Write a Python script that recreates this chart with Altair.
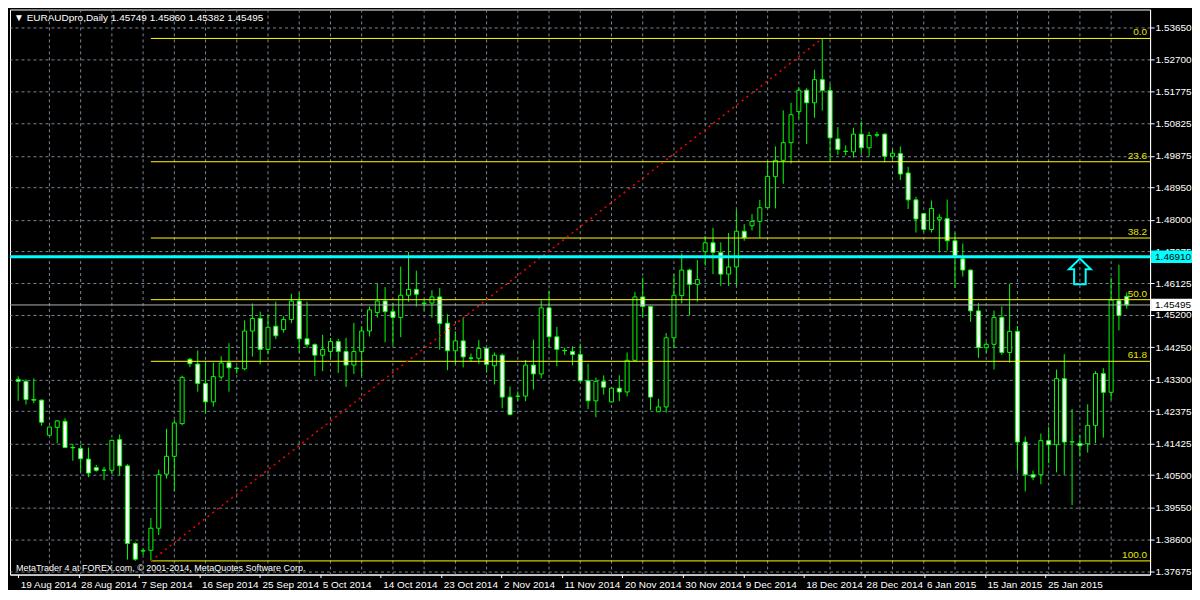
import json
import altair as alt
import pandas as pd

# ---------------- data ----------------
opens = [1.4331, 1.4325, 1.4272, 1.4270, 1.4167, 1.4190, 1.4208, 1.4131, 1.4128, 1.4097,
         1.4072, 1.4065, 1.4064, 1.4154, 1.4077, 1.3849, 1.3827, 1.3829, 1.3894, 1.4053,
         1.4105, 1.4201, 1.4390, 1.4376, 1.4319, 1.4265, 1.4338, 1.4380, 1.4364, 1.4362,
         1.4473, 1.4510, 1.4419, 1.4487, 1.4477, 1.4507, 1.4561, 1.4450, 1.4433, 1.4402,
         1.4413, 1.4442, 1.4413, 1.4373, 1.4413, 1.4473, 1.4527, 1.4561, 1.4530, 1.4513,
         1.4578, 1.4595, 1.4555, 1.4555, 1.4573, 1.4496, 1.4415, 1.4444, 1.4394, 1.4393,
         1.4422, 1.4371, 1.4402, 1.4279, 1.4281, 1.4282, 1.4373, 1.4347, 1.4541, 1.4456,
         1.4416, 1.4413, 1.4404, 1.4327, 1.4268, 1.4325, 1.4265, 1.4305, 1.4294, 1.4387,
         1.4573, 1.4545, 1.4236, 1.4250, 1.4453, 1.4577, 1.4652, 1.4610, 1.4706, 1.4732,
         1.4703, 1.4640, 1.4661, 1.4766, 1.4782, 1.4795, 1.4835, 1.4926, 1.4974, 1.5026,
         1.5117, 1.5180, 1.5143, 1.5211, 1.5179, 1.5037, 1.5001, 1.4999, 1.5051, 1.5011,
         1.5048, 1.5051, 1.4986, 1.4994, 1.4937, 1.4858, 1.4818, 1.4771, 1.4801, 1.4803,
         1.4738, 1.4685, 1.4652, 1.4532, 1.4424, 1.4434, 1.4513, 1.4410, 1.4472, 1.4147,
         1.4051, 1.4051, 1.4151, 1.4139, 1.4333, 1.4147, 1.4143, 1.4142, 1.4196, 1.4348,
         1.4293, 1.4562, 1.45749]
highs = [1.4340, 1.4331, 1.4334, 1.4272, 1.4192, 1.4211, 1.4217, 1.4142, 1.4139, 1.4131,
         1.4080, 1.4074, 1.4154, 1.4169, 1.4082, 1.3853, 1.3835, 1.3924, 1.4066, 1.4186,
         1.4212, 1.4342, 1.4394, 1.4416, 1.4382, 1.4380, 1.4399, 1.4437, 1.4369, 1.4504,
         1.4554, 1.4530, 1.4522, 1.4559, 1.4516, 1.4582, 1.4585, 1.4559, 1.4437, 1.4462,
         1.4453, 1.4450, 1.4453, 1.4497, 1.4487, 1.4545, 1.4611, 1.4602, 1.4556, 1.4662,
         1.4705, 1.4650, 1.4564, 1.4593, 1.4599, 1.4522, 1.4472, 1.4512, 1.4407, 1.4447,
         1.4425, 1.4410, 1.4407, 1.4310, 1.4296, 1.4388, 1.4448, 1.4563, 1.4591, 1.4485,
         1.4424, 1.4428, 1.4436, 1.4377, 1.4336, 1.4343, 1.4308, 1.4343, 1.4410, 1.4588,
         1.4630, 1.4548, 1.4274, 1.4467, 1.4640, 1.4701, 1.4656, 1.4681, 1.4752, 1.4776,
         1.4733, 1.4761, 1.4829, 1.4787, 1.4816, 1.4858, 1.4972, 1.5015, 1.5121, 1.5143,
         1.5188, 1.5186, 1.5240, 1.5331, 1.5198, 1.5072, 1.5018, 1.5070, 1.5089, 1.5058,
         1.5058, 1.5054, 1.5007, 1.5015, 1.4955, 1.4867, 1.4819, 1.4856, 1.4816, 1.4859,
         1.4762, 1.4730, 1.4653, 1.4555, 1.4441, 1.4533, 1.4545, 1.4611, 1.4488, 1.4163,
         1.4063, 1.4172, 1.4192, 1.4360, 1.4405, 1.4244, 1.4168, 1.4258, 1.4355, 1.4364,
         1.4630, 1.4668, 1.45860]
lows = [1.4268, 1.4257, 1.4261, 1.4195, 1.4166, 1.4144, 1.4129, 1.4092, 1.4058, 1.4044,
        1.4060, 1.4035, 1.4054, 1.4049, 1.3802, 1.3798, 1.3816, 1.3800, 1.3874, 1.4040,
        1.4003, 1.4196, 1.4367, 1.4295, 1.4231, 1.4251, 1.4331, 1.4295, 1.4348, 1.4358,
        1.4398, 1.4375, 1.4405, 1.4449, 1.4468, 1.4496, 1.4410, 1.4424, 1.4341, 1.4355,
        1.4393, 1.4350, 1.4309, 1.4347, 1.4341, 1.4457, 1.4512, 1.4440, 1.4432, 1.4455,
        1.4559, 1.4545, 1.4534, 1.4512, 1.4418, 1.4358, 1.4375, 1.4366, 1.4383, 1.4377,
        1.4351, 1.4316, 1.4246, 1.4225, 1.4268, 1.4267, 1.4301, 1.4334, 1.4426, 1.4370,
        1.4403, 1.4372, 1.4322, 1.4244, 1.4220, 1.4286, 1.4263, 1.4267, 1.4281, 1.4387,
        1.4514, 1.4241, 1.4235, 1.4233, 1.4422, 1.4554, 1.4519, 1.4559, 1.4665, 1.4640,
        1.4605, 1.4605, 1.4605, 1.4738, 1.4768, 1.4747, 1.4835, 1.4833, 1.4905, 1.4965,
        1.5097, 1.5022, 1.5099, 1.5120, 1.4973, 1.4990, 1.4989, 1.4982, 1.4994, 1.4985,
        1.5042, 1.4968, 1.4977, 1.4916, 1.4831, 1.4762, 1.4764, 1.4762, 1.4704, 1.4709,
        1.4600, 1.4633, 1.4500, 1.4394, 1.4409, 1.4360, 1.4403, 1.4380, 1.4063, 1.4002,
        1.4035, 1.4023, 1.4085, 1.4058, 1.4051, 1.3962, 1.4104, 1.4116, 1.4144, 1.4160,
        1.4272, 1.4475, 1.45382]
closes = [1.4325, 1.4272, 1.4270, 1.4205, 1.4191, 1.4209, 1.4131, 1.4130, 1.4098, 1.4056,
          1.4064, 1.4064, 1.4152, 1.4077, 1.3849, 1.3803, 1.3828, 1.3894, 1.4051, 1.4105,
          1.4203, 1.4337, 1.4377, 1.4319, 1.4265, 1.4339, 1.4379, 1.4365, 1.4363, 1.4473,
          1.4510, 1.4419, 1.4484, 1.4459, 1.4507, 1.4561, 1.4450, 1.4433, 1.4402, 1.4419,
          1.4442, 1.4413, 1.4373, 1.4413, 1.4473, 1.4535, 1.4561, 1.4530, 1.4513, 1.4578,
          1.4595, 1.4581, 1.4554, 1.4573, 1.4495, 1.4415, 1.4444, 1.4397, 1.4393, 1.4422,
          1.4375, 1.4402, 1.4279, 1.4228, 1.4282, 1.4373, 1.4347, 1.4541, 1.4456, 1.4419,
          1.4415, 1.4404, 1.4327, 1.4268, 1.4325, 1.4308, 1.4305, 1.4294, 1.4387, 1.4573,
          1.4545, 1.4279, 1.4250, 1.4453, 1.4578, 1.4652, 1.4610, 1.4624, 1.4732, 1.4704,
          1.4640, 1.4661, 1.4766, 1.4747, 1.4795, 1.4835, 1.4927, 1.4974, 1.5026, 1.5108,
          1.5180, 1.5143, 1.5211, 1.5179, 1.5040, 1.5006, 1.5000, 1.5051, 1.5011, 1.5047,
          1.5049, 1.4986, 1.4995, 1.4934, 1.4858, 1.4802, 1.4771, 1.4833, 1.4807, 1.4738,
          1.4693, 1.4652, 1.4532, 1.4424, 1.4434, 1.4513, 1.4410, 1.4472, 1.4147, 1.4051,
          1.4044, 1.4151, 1.4139, 1.4333, 1.4147, 1.4148, 1.4136, 1.4196, 1.4348, 1.4293,
          1.4564, 1.4518, 1.45495]

price_labels = [1.53650, 1.52700, 1.51775, 1.50825, 1.49875, 1.48950, 1.48000, 1.47075,
                1.46125, 1.45200, 1.44250, 1.43300, 1.42375, 1.41425, 1.40500, 1.39550,
                1.38600, 1.37675]
date_labels = ["19 Aug 2014", "28 Aug 2014", "7 Sep 2014", "16 Sep 2014", "25 Sep 2014",
               "5 Oct 2014", "14 Oct 2014", "23 Oct 2014", "2 Nov 2014", "11 Nov 2014",
               "20 Nov 2014", "30 Nov 2014", "9 Dec 2014", "18 Dec 2014", "28 Dec 2014",
               "6 Jan 2015", "15 Jan 2015", "25 Jan 2015"]
fib_levels = [0.0, 23.6, 38.2, 50.0, 61.8, 100.0]
fib_high = 1.5332
fib_low = 1.3798
fib_start_bar = 17
fib_high_bar = 103
hline_price = 1.46910
arrow_bar = 136
arrow_price = 1.4648
symbol = "EURAUDpro,Daily"
footer = "MetaTrader 4 at FOREX.com, \u00a9 2001-2014, MetaQuotes Software Corp."

# ---------------- layout / style ----------------
W, H = 1142, 566
FONT = "Liberation Sans"
GREEN = "#00FF00"
GRID = "#778899"
LABEL_STEP = 7.74  # bars between time labels

n = len(opens)
df = pd.DataFrame({"i": list(range(n)), "o": opens, "h": highs, "l": lows, "c": closes})

x_scale = alt.Scale(domain=[-0.41, 144.35], nice=False, zero=False)
y_scale = alt.Scale(domain=[1.3758, 1.5417], nice=False, zero=False)

x_axis = alt.Axis(
    orient="bottom", values=[k * LABEL_STEP for k in range(len(date_labels))],
    labelExpr=json.dumps(date_labels) + "[round(datum.value / %s)]" % LABEL_STEP,
    labelAlign="left", labelOffset=2, labelColor="white", labelFont=FONT, labelFontSize=10,
    tickColor="white", tickSize=3, domainColor="white", labelPadding=2, grid=False,
    labelOverlap=False, labelFlush=False, labelBound=False, title=None)
y_axis = alt.Axis(
    orient="right", values=price_labels, format=".5f", labelColor="white", labelFont=FONT,
    labelFontSize=10, tickColor="white", tickSize=4, labelPadding=1, domainColor="white",
    grid=True, gridColor=GRID, gridDash=[3, 3], gridWidth=1, labelOverlap=False,
    labelFlush=False, labelBound=False, title=None)


def X(f):
    return alt.X(f, type="quantitative", scale=x_scale, axis=x_axis, title=None)


def Y(f):
    return alt.Y(f, type="quantitative", scale=y_scale, axis=y_axis, title=None)


# vertical grid every 4 bars
vgrid = alt.Chart(pd.DataFrame({"g": list(range(4, 143, 4))})).mark_rule(
    color=GRID, strokeDash=[3, 3], strokeWidth=1).encode(x=X("g"))

wicks = alt.Chart(df).mark_rule(color=GREEN, strokeWidth=1).encode(
    x=X("i"), y=Y("l"), y2="h:Q")

bodies = alt.Chart(df).transform_calculate(
    top="max(datum.o, datum.c)", bot="min(datum.o, datum.c)"
).mark_bar(size=4, stroke=GREEN, strokeWidth=1).encode(
    x=X("i"), y=Y("top"), y2="bot:Q",
    fill=alt.condition("datum.c > datum.o", alt.value("#000000"), alt.value("#FFFFFF")))

# Fibonacci retracement
fib_df = pd.DataFrame({
    "lvl": fib_levels,
    "p": [fib_high - (fib_high - fib_low) * v / 100.0 for v in fib_levels],
    "lbl": ["%.1f" % v for v in fib_levels],
    "start": [fib_start_bar] * len(fib_levels),
})
fib_lines = alt.Chart(fib_df).mark_rule(color="#FFFF00", strokeWidth=1).encode(
    x=X("start"), x2=alt.value(W), y=Y("p"))
fib_text = alt.Chart(fib_df).mark_text(
    align="right", baseline="bottom", dy=-1, color="#E6E600", font=FONT, fontSize=10
).encode(x=alt.value(W - 3), y=Y("p"), text="lbl:N")
trend = alt.Chart(pd.DataFrame({"i": [fib_start_bar, fib_high_bar], "p": [fib_low, fib_high]})
                  ).mark_line(color="#FF0000", strokeDash=[2, 4], strokeWidth=1.5).encode(
    x=X("i"), y=Y("p"))

# bid line and horizontal level
bid = alt.Chart(pd.DataFrame({"p": [closes[-1]]})).mark_rule(
    color="#B0B0B0", strokeWidth=1).encode(x=alt.value(0), x2=alt.value(W), y=Y("p"))
hline = alt.Chart(pd.DataFrame({"p": [hline_price]})).mark_rule(
    color="#00FFFF", strokeWidth=3).encode(x=alt.value(0), x2=alt.value(W), y=Y("p"))

arrow_path = "M0,-1L0.85,-0.17L0.45,-0.17L0.45,1L-0.45,1L-0.45,-0.17L-0.85,-0.17Z"
arrow = alt.Chart(pd.DataFrame({"i": [arrow_bar], "p": [arrow_price]})).mark_point(
    shape=arrow_path, filled=False, stroke="#00FFFF", strokeWidth=2, size=660, opacity=1
).encode(x=X("i"), y=Y("p"))

# highlighted price tags on the right axis
tag_df = pd.DataFrame({"p": [hline_price, closes[-1]],
                       "bg": ["#00FFFF", "#FFFFFF"],
                       "t": ["%.5f" % hline_price, "%.5f" % closes[-1]]})
tag_box = alt.Chart(tag_df).mark_point(
    shape="M-1,-0.3H1V0.3H-1Z", filled=True, size=1681, opacity=1, strokeWidth=0
).encode(x=alt.value(W + 21.5), y=Y("p"), color=alt.Color("bg:N", scale=None))
tag_text = alt.Chart(tag_df).mark_text(
    align="left", baseline="middle", color="black", font=FONT, fontSize=10
).encode(x=alt.value(W + 5), y=Y("p"), text="t:N")

header_txt = "\u25BC %s  %.5f %.5f %.5f %.5f" % (symbol, opens[-1], highs[-1], lows[-1], closes[-1])
header = alt.Chart(pd.DataFrame({"t": [header_txt]})).mark_text(
    align="left", baseline="middle", color="white", font=FONT, fontSize=10
).encode(x=alt.value(4), y=alt.value(9), text="t:N")
foot = alt.Chart(pd.DataFrame({"t": [footer]})).mark_text(
    align="left", baseline="middle", color="white", font=FONT, fontSize=9
).encode(x=alt.value(6), y=alt.value(H - 7), text="t:N")

chart = alt.layer(
    vgrid, wicks, bodies, fib_lines, fib_text, trend, bid, hline, arrow,
    tag_box, tag_text, header, foot
).properties(
    width=W, height=H, padding=0, background="#000000"
).configure_view(stroke="#FFFFFF", strokeWidth=1)

chart.save("out.html", embed_options={"renderer": "svg", "actions": False})
